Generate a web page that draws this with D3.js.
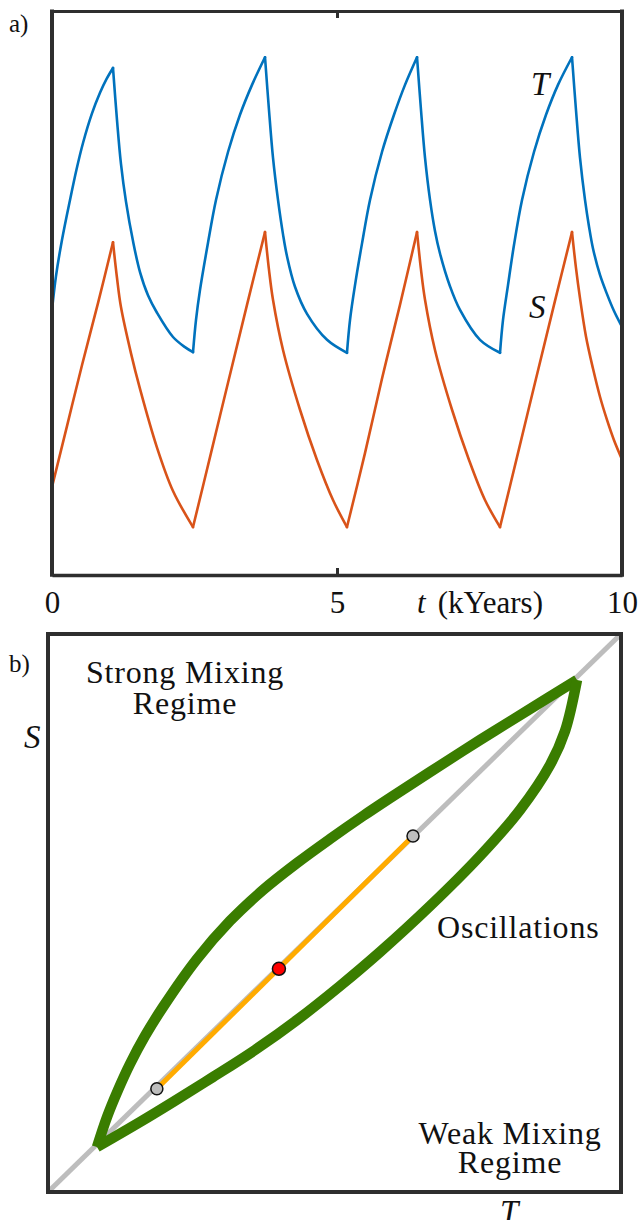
<!DOCTYPE html>
<html>
<head>
<meta charset="utf-8">
<script src="https://cdn.jsdelivr.net/npm/d3@7"></script>
<style>
  body { margin: 0; background: #fff; }
  svg { display: block; }
  text { font-family: "Liberation Serif", "Times New Roman", serif; fill: #111; }
</style>
</head>
<body>
<div id="viz"></div>
<script>
// Panel a: time series, [t (kYears), value (arb. units, 0-100)].
const T_SERIES = [
  [0, 47.0], [0.07, 53.0], [0.175, 59.4], [0.316, 66.5], [0.43, 71.9], [0.544, 76.6], [0.70, 81.8], [0.842, 85.5], [0.96, 88.0], [1.07, 89.9],
  [1.14, 80.7], [1.21, 72.9], [1.298, 66.2], [1.421, 59.2], [1.544, 53.7], [1.684, 49.6], [1.842, 46.5], [2.123, 42.2], [2.333, 40.4], [2.474, 39.5],
  [2.526, 45.2], [2.596, 50.5], [2.737, 58.9], [2.877, 66.5], [3.088, 75.0], [3.298, 81.6], [3.509, 86.9], [3.737, 91.8],
  [3.807, 82.4], [3.877, 74.0], [3.965, 66.5], [4.053, 60.4], [4.123, 56.5], [4.263, 51.1], [4.474, 46.3], [4.825, 41.7], [5.175, 39.4],
  [5.228, 45.2], [5.316, 51.4], [5.439, 58.8], [5.579, 66.5], [5.789, 75.0], [6.0, 81.6], [6.193, 86.9], [6.404, 91.8],
  [6.474, 82.4], [6.544, 74.0], [6.632, 66.5], [6.719, 61.0], [6.807, 57.0], [6.982, 51.2], [7.158, 47.0], [7.509, 41.7], [7.860, 39.4],
  [7.912, 45.2], [8.0, 51.4], [8.105, 58.5], [8.246, 66.5], [8.456, 75.0], [8.667, 81.6], [8.877, 86.9], [9.123, 91.8],
  [9.193, 82.4], [9.263, 74.0], [9.351, 66.5], [9.421, 61.8], [9.491, 57.9], [9.614, 53.2], [9.737, 49.8], [9.860, 46.8], [10.0, 44.0]
];

const S_SERIES = [
  [0, 15.6], [0.263, 26.4], [0.526, 37.2], [0.807, 48.2], [1.07, 59.0],
  [1.14, 52.7], [1.21, 47.5], [1.386, 39.3], [1.544, 33.0], [1.842, 22.6], [2.123, 14.9], [2.474, 8.5],
  [2.789, 21.6], [3.105, 34.8], [3.421, 47.9], [3.737, 60.8],
  [3.807, 54.1], [3.877, 48.8], [4.053, 39.9], [4.351, 29.3], [4.649, 20.4], [4.930, 13.3], [5.175, 8.5],
  [5.491, 21.6], [5.789, 34.8], [6.105, 47.9], [6.404, 60.8],
  [6.474, 54.1], [6.544, 48.8], [6.719, 39.9], [7.018, 29.3], [7.316, 20.4], [7.596, 13.3], [7.860, 8.5],
  [8.175, 21.6], [8.491, 34.8], [8.807, 47.9], [9.123, 60.8],
  [9.193, 54.4], [9.263, 49.1], [9.368, 42.3], [9.491, 36.6], [9.614, 31.6], [9.737, 27.5], [9.860, 23.9], [10.0, 20.5]
];

const TIME_TICKS = [0, 5, 10];
const TIME_TICK_LABELS = ["0", "5", "10"];

// Panel b: (T, S) plane, normalised 0-1.
const DIAGONAL = [[0, 0], [1, 1]];
const LOOP_UPPER = [
  [0.0855, 0.0806], [0.103, 0.1344], [0.1222, 0.1828], [0.1431, 0.2294], [0.1693, 0.2796], [0.2007, 0.3315],
  [0.2600, 0.4176], [0.3176, 0.4857], [0.3752, 0.5412], [0.4346, 0.5896], [0.4921, 0.6326], [0.5497, 0.6738],
  [0.5969, 0.7061], [0.6667, 0.7527], [0.7539, 0.8100], [0.8412, 0.8656], [0.9232, 0.9176]
];
const LOOP_LOWER = [
  [0.0855, 0.0806], [0.1606, 0.1254], [0.2182, 0.1613], [0.2880, 0.2061], [0.3613, 0.2545], [0.4346, 0.3082],
  [0.5096, 0.3692], [0.5794, 0.4301], [0.6667, 0.5125], [0.7539, 0.6022], [0.8237, 0.6846], [0.8761, 0.7652],
  [0.9023, 0.8262], [0.9232, 0.9176]
];
const STABLE_SEGMENT = [[0.190, 0.185], [0.637, 0.638]];
const FIXED_POINT = [0.403, 0.400];

const W = 638, H = 1220;
const A = { left: 52, right: 622, top: 11, bottom: 575 };
const B = { left: 48, right: 621, top: 634, bottom: 1192 };
const FRAME = "#2e2e2e";

const svg = d3.select("#viz").append("svg")
  .attr("width", W)
  .attr("height", H);

svg.append("rect").attr("width", W).attr("height", H).attr("fill", "#fff");

// split a series at its turning points so each piece is monotone (keeps the cusps sharp)
function monotonePieces(data) {
  const pieces = [];
  let cur = [data[0]];
  for (let i = 1; i < data.length; i++) {
    cur.push(data[i]);
    const next = data[i + 1];
    if (next && Math.sign(data[i][1] - data[i - 1][1]) !== Math.sign(next[1] - data[i][1])) {
      pieces.push(cur);
      cur = [data[i]];
    }
  }
  pieces.push(cur);
  return pieces;
}

// ---------- panel a ----------
const x = d3.scaleLinear().domain([0, 10]).range([A.left, A.right]);
const y = d3.scaleLinear().domain([0, 100]).range([A.bottom, A.top]);

svg.append("clipPath").attr("id", "clipA")
  .append("rect")
  .attr("x", A.left).attr("y", A.top)
  .attr("width", A.right - A.left).attr("height", A.bottom - A.top);

const lineA = d3.line()
  .x(d => x(d[0]))
  .y(d => y(d[1]))
  .curve(d3.curveCatmullRom.alpha(0.5));

const series = [
  { data: S_SERIES, color: "#D95319" },
  { data: T_SERIES, color: "#0072BD" }
];

series.forEach(s => {
  svg.append("g")
    .attr("clip-path", "url(#clipA)")
    .selectAll("path")
    .data(monotonePieces(s.data))
    .join("path")
    .attr("d", lineA)
    .attr("fill", "none")
    .attr("stroke", s.color)
    .attr("stroke-width", 2.6)
    .attr("stroke-linejoin", "round")
    .attr("stroke-linecap", "round");
});

// frame + ticks
const bottomAxis = svg.append("g")
  .attr("transform", `translate(0,${A.bottom})`)
  .call(d3.axisBottom(x)
    .tickValues(TIME_TICKS)
    .tickFormat((d, i) => TIME_TICK_LABELS[i])
    .tickSizeInner(-7)
    .tickSizeOuter(0)
    .tickPadding(16));
bottomAxis.select(".domain").attr("stroke", FRAME).attr("stroke-width", 3.5);
bottomAxis.selectAll(".tick line")
  .attr("stroke", FRAME).attr("stroke-width", 3)
  .attr("display", d => (d === 5 ? null : "none"));
bottomAxis.selectAll(".tick text")
  .attr("font-family", "Liberation Serif")
  .attr("font-size", 31)
  .attr("fill", "#111");

const topAxis = svg.append("g")
  .attr("transform", `translate(0,${A.top})`)
  .call(d3.axisTop(x).tickValues([5]).tickFormat("").tickSizeInner(-7).tickSizeOuter(0));
topAxis.select(".domain").attr("stroke", FRAME).attr("stroke-width", 3);
topAxis.selectAll(".tick line").attr("stroke", FRAME).attr("stroke-width", 3);

[A.left, A.right].forEach(px => {
  svg.append("line")
    .attr("x1", px).attr("x2", px)
    .attr("y1", A.top - 1.5).attr("y2", A.bottom + 1.75)
    .attr("stroke", FRAME)
    .attr("stroke-width", 4);
});

const axisLabel = svg.append("text")
  .attr("x", 417)
  .attr("y", 613)
  .attr("font-size", 31);
axisLabel.append("tspan").attr("font-style", "italic").text("t");
axisLabel.append("tspan").attr("dx", 12).text("(kYears)");

svg.append("text").attr("x", 531).attr("y", 95)
  .attr("font-size", 33).attr("font-style", "italic").text("T");
svg.append("text").attr("x", 529).attr("y", 318)
  .attr("font-size", 33).attr("font-style", "italic").text("S");

svg.append("text").attr("x", 9).attr("y", 32).attr("font-size", 25).text("a)");

// ---------- panel b ----------
const tx = d3.scaleLinear().domain([0, 1]).range([B.left, B.right]);
const sy = d3.scaleLinear().domain([0, 1]).range([B.bottom, B.top]);

svg.append("clipPath").attr("id", "clipB")
  .append("rect")
  .attr("x", B.left).attr("y", B.top)
  .attr("width", B.right - B.left).attr("height", B.bottom - B.top);

const gB = svg.append("g").attr("clip-path", "url(#clipB)");

const lineB = d3.line().x(d => tx(d[0])).y(d => sy(d[1]));

gB.append("path")
  .attr("d", lineB(DIAGONAL))
  .attr("stroke", "#bdbdbd")
  .attr("stroke-width", 5)
  .attr("fill", "none");

gB.selectAll("path.loop")
  .data([LOOP_UPPER, LOOP_LOWER])
  .join("path")
  .attr("class", "loop")
  .attr("d", d3.line().x(d => tx(d[0])).y(d => sy(d[1])).curve(d3.curveCatmullRom.alpha(0.5)))
  .attr("fill", "none")
  .attr("stroke", "#3a7d00")
  .attr("stroke-width", 10.5)
  .attr("stroke-linecap", "butt");

gB.append("path")
  .attr("d", lineB(STABLE_SEGMENT))
  .attr("stroke", "#ffab00")
  .attr("stroke-width", 5)
  .attr("fill", "none");

gB.selectAll("circle.end")
  .data(STABLE_SEGMENT)
  .join("circle")
  .attr("class", "end")
  .attr("cx", d => tx(d[0]))
  .attr("cy", d => sy(d[1]))
  .attr("r", 6)
  .attr("fill", "#bdbdbd")
  .attr("stroke", "#111")
  .attr("stroke-width", 1.5);

gB.append("circle")
  .attr("cx", tx(FIXED_POINT[0]))
  .attr("cy", sy(FIXED_POINT[1]))
  .attr("r", 6.5)
  .attr("fill", "#ff0000")
  .attr("stroke", "#111")
  .attr("stroke-width", 1.5);

svg.append("rect")
  .attr("x", B.left).attr("y", B.top)
  .attr("width", B.right - B.left).attr("height", B.bottom - B.top)
  .attr("fill", "none")
  .attr("stroke", FRAME)
  .attr("stroke-width", 4);

const centred = (lines, cx, y0, dy) => {
  const t = svg.append("text")
    .attr("text-anchor", "middle")
    .attr("font-size", 32)
    .attr("letter-spacing", 0.8);
  lines.forEach((s, i) => t.append("tspan").attr("x", cx).attr("y", y0 + i * dy).text(s));
};
centred(["Strong Mixing", "Regime"], 185, 683, 31);
centred(["Weak Mixing", "Regime"], 510, 1144, 29);
svg.append("text").attr("x", 437).attr("y", 938)
  .attr("font-size", 32).attr("letter-spacing", 0.8).text("Oscillations");

svg.append("text").attr("x", 24).attr("y", 748)
  .attr("font-size", 33).attr("font-style", "italic").text("S");
svg.append("text").attr("x", 500).attr("y", 1223)
  .attr("font-size", 33).attr("font-style", "italic").text("T");

svg.append("text").attr("x", 9).attr("y", 672).attr("font-size", 25).text("b)");
</script>
</body>
</html>
